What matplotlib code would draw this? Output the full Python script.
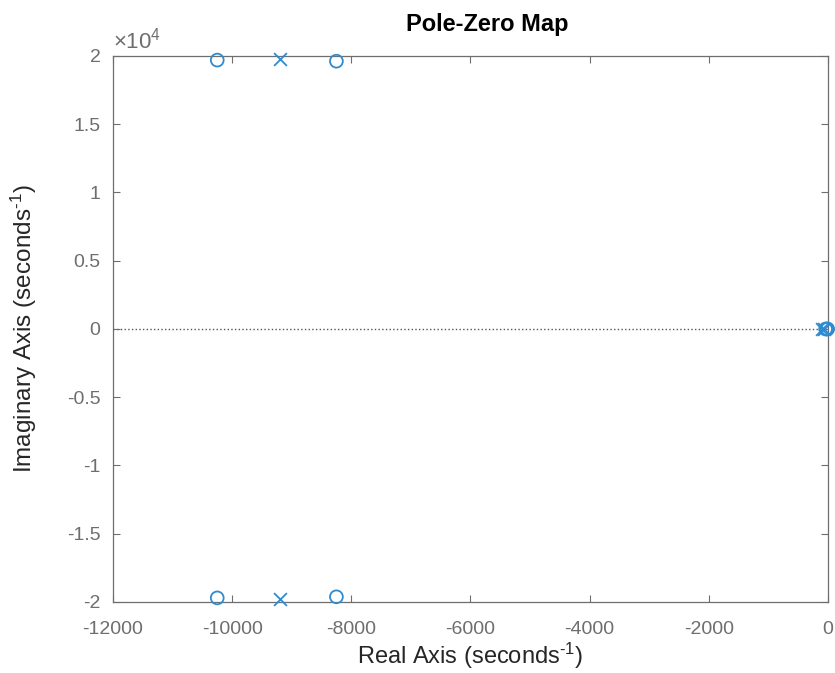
import matplotlib.pyplot as plt
import numpy as np

plt.rcParams['font.family'] = ['Liberation Sans', 'DejaVu Sans']
plt.rcParams['axes.unicode_minus'] = False
plt.rcParams['mathtext.fontset'] = 'custom'
plt.rcParams['mathtext.rm'] = 'Liberation Sans'
plt.rcParams['mathtext.it'] = 'Liberation Sans'

# poles (x) and zeros (o), in seconds^-1
pole_re = [-9200, -9200, -100, -60]
pole_im = [19780, -19780, 0, 0]
zero_re = [-10250, -10250, -8250, -8250, -20, -5, -40]
zero_im = [19700, -19700, 19620, -19620, 0, 0, 0]

xticks = [-12000, -10000, -8000, -6000, -4000, -2000, 0]
yticks = [-2, -1.5, -1, -0.5, 0, 0.5, 1, 1.5, 2]
ytick_labels = ['-2', '-1.5', '-1', '-0.5', '0', '0.5', '1', '1.5', '2']

blue = '#2f8bd0'
axcol = '#6e6e6e'
labcol = '#262626'

fig = plt.figure(figsize=(8.35, 6.73), dpi=100)
ax = fig.add_axes([0.1353, 0.1055, 0.9916 - 0.1353, 0.9168 - 0.1055])

ax.axhline(0, color='#555555', ls=':', lw=1.0, zorder=1)
ax.scatter(pole_re, np.array(pole_im) / 1e4, marker='x', s=85, color=blue,
           linewidths=1.3, zorder=3, clip_on=False)
ax.scatter(zero_re, np.array(zero_im) / 1e4, marker='o', s=85, facecolors='none',
           edgecolors=blue, linewidths=1.3, zorder=3, clip_on=False)

ax.set_xlim(-12000, 0)
ax.set_ylim(-2, 2)
ax.set_xticks(xticks)
ax.set_yticks(yticks)
ax.set_yticklabels(ytick_labels)
ax.tick_params(direction='in', length=5, width=0.8, colors=axcol, labelsize=14,
               top=True, right=True)
ax.tick_params(axis='x', pad=14)
ax.tick_params(axis='y', pad=9)
for sp in ax.spines.values():
    sp.set_color(axcol)
    sp.set_linewidth(0.9)

ax.set_xlabel(r'Real Axis (seconds$^{\text{-}1}$)', fontsize=17, color=labcol, labelpad=2)
ax.set_ylabel(r'Imaginary Axis (seconds$^{\text{-}1}$)', fontsize=17.5, color=labcol, labelpad=20)
ax.set_title('Pole-Zero Map', fontsize=17, fontweight='bold', color='black', pad=18, x=0.523)
ax.text(0.0, 1.004, r'$\times10^{4}$', transform=ax.transAxes, fontsize=16,
        color=axcol, ha='left', va='bottom')

fig.savefig('out.png', dpi=100)
